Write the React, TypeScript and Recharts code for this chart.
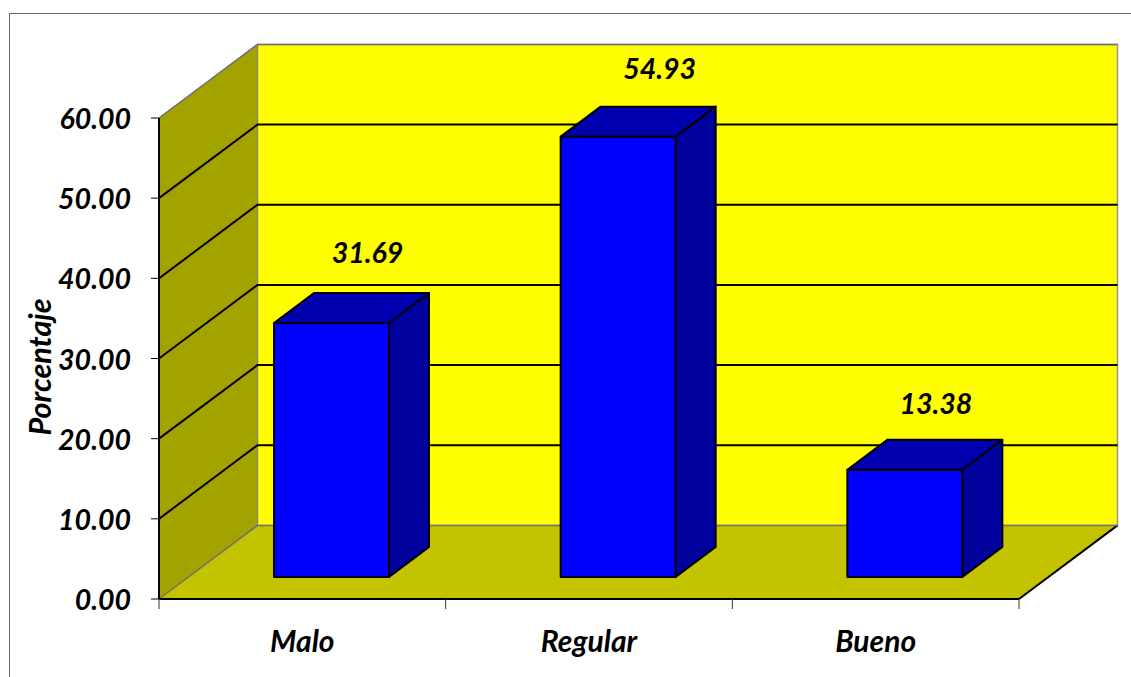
import { BarChart, Bar, XAxis, YAxis, CartesianGrid, LabelList, ReferenceArea } from "recharts";

const categories = ["Malo", "Regular", "Bueno"];
const percentages = [31.69, 54.93, 13.38];
const yTicks = [0, 10, 20, 30, 40, 50, 60];
const yTickLabels = ["0.00", "10.00", "20.00", "30.00", "40.00", "50.00", "60.00"];

const data = categories.map((name, i) => ({ name, value: percentages[i] }));

// excel style fake 3d
const WALL_DX = 98.5;
const WALL_DY = -73.6;
const BAR_DX = 29;
const BAR_DY = -22;
const BOX_DX = 40;
const BOX_DY = -30;
// labels were dragged by hand in the original
const labelNudge = [
  { dx: 65, dy: -92.5 },
  { dx: 70.5, dy: -91 },
  { dx: 60, dy: -89 },
];

const W = 1131;
const H = 677;
const margin = { top: 118, right: 112, left: 59, bottom: 0 };
const halfBand = (W - 159 - margin.right) / categories.length / 2;
const font = "Lato, Carlito, sans-serif";

const pts = (list: number[][]) => list.map((p) => p.join(",")).join(" ");

function Walls(props: any) {
  const { x, y, width, height } = props;
  const b = y + height;
  const r = x + width;
  return (
    <g>
      <polygon
        points={pts([[x + WALL_DX, y + WALL_DY], [r + WALL_DX, y + WALL_DY], [r + WALL_DX, b + WALL_DY], [x + WALL_DX, b + WALL_DY]])}
        fill="#ffff00"
        stroke="#999999"
        strokeWidth={1.5}
      />
      <polygon
        points={pts([[x, y], [x + WALL_DX, y + WALL_DY], [x + WALL_DX, b + WALL_DY], [x, b]])}
        fill="#a3a300"
        stroke="#808080"
        strokeWidth={1}
      />
      <polygon
        points={pts([[x, b], [r, b], [r + WALL_DX, b + WALL_DY], [x + WALL_DX, b + WALL_DY]])}
        fill="#c3c300"
      />
      <line x1={r} y1={b} x2={r + WALL_DX} y2={b + WALL_DY} stroke="#000" strokeWidth={2} />
    </g>
  );
}

function GridLine(props: any) {
  const { x1, y1, x2, index } = props;
  const outer = index === 0 || index === yTicks.length - 1;
  return (
    <polyline
      key={props.key ?? index}
      points={pts([[x1, y1], [x1 + WALL_DX, y1 + WALL_DY], [x2 + WALL_DX, y1 + WALL_DY]])}
      fill="none"
      stroke={outer ? "#707070" : "#000"}
      strokeWidth={outer ? 1.5 : 2}
    />
  );
}

function Box(props: any) {
  const { x, y, width, height } = props;
  const l = x + BAR_DX;
  const r = l + width;
  const t = y + BAR_DY;
  const b = t + height;
  return (
    <g stroke="#000" strokeWidth={2} strokeLinejoin="round">
      <polygon points={pts([[l, t], [r, t], [r + BOX_DX, t + BOX_DY], [l + BOX_DX, t + BOX_DY]])} fill="#0000b0" />
      <polygon points={pts([[r, t], [r + BOX_DX, t + BOX_DY], [r + BOX_DX, b + BOX_DY], [r, b]])} fill="#00009c" />
      <rect x={l} y={t} width={width} height={height} fill="#0000ff" />
    </g>
  );
}

function ValueLabel(props: any) {
  const { x, y, width, value, index } = props;
  const n = labelNudge[index];
  return (
    <text
      x={x + width / 2 + n.dx}
      y={y + n.dy}
      textAnchor="middle"
      dominantBaseline="central"
      fontFamily={font}
      fontWeight={700}
      fontStyle="italic"
      fontSize={28.5}
      fill="#000"
    >
      {value.toFixed(2)}
    </text>
  );
}

function CategoryTick(props: any) {
  const { x, y, payload, index } = props;
  const tickY = y - 8;
  return (
    <g>
      <line x1={x - halfBand} y1={tickY} x2={x - halfBand} y2={tickY + 10} stroke="#333" strokeWidth={1} />
      {index === categories.length - 1 && (
        <line x1={x + halfBand} y1={tickY} x2={x + halfBand} y2={tickY + 10} stroke="#333" strokeWidth={1} />
      )}
      <text
        x={x}
        y={640}
        textAnchor="middle"
        dominantBaseline="central"
        fontFamily={font}
        fontWeight={700}
        fontStyle="italic"
        fontSize={30}
        fill="#000"
      >
        {payload.value}
      </text>
    </g>
  );
}

export default function App() {
  return (
    <div style={{ position: "absolute", left: 0, top: 0, width: W, height: H, background: "#fff" }}>
      <div
        style={{
          position: "absolute",
          left: 8.5,
          top: 13,
          right: 0,
          bottom: 0,
          borderLeft: "1px solid #666",
          borderTop: "1px solid #666",
        }}
      />
      <BarChart width={W} height={H} data={data} margin={margin} barCategoryGap="10%" style={{ position: "absolute" }}>
        <ReferenceArea y1={0} y2={60} shape={Walls} ifOverflow="visible" zIndex={-200} />
        <CartesianGrid vertical={false} horizontal={GridLine} syncWithTicks />
        <XAxis
          dataKey="name"
          height={78}
          interval={0}
          axisLine={{ stroke: "#000", strokeWidth: 2 }}
          tickLine={false}
          tick={CategoryTick}
        />
        <YAxis
          width={100}
          domain={[0, 60]}
          ticks={yTicks}
          interval={0}
          tickFormatter={(v: number) => yTickLabels[yTicks.indexOf(v)]}
          axisLine={{ stroke: "#000", strokeWidth: 2 }}
          tickLine={{ stroke: "#000", strokeWidth: 1 }}
          tickSize={8}
          tickMargin={20}
          tick={{ fontFamily: font, fontWeight: 700, fontStyle: "italic", fontSize: 28.5, fill: "#000", dy: 1 }}
          label={{
            value: "Porcentaje",
            angle: -90,
            position: "insideLeft",
            dx: -24,
            dy: 77,
            style: { fontFamily: font, fontWeight: 700, fontStyle: "italic", fontSize: 30.5, fill: "#000" },
          }}
        />
        <Bar dataKey="value" barSize={115} shape={Box} isAnimationActive={false}>
          <LabelList dataKey="value" content={ValueLabel} />
        </Bar>
      </BarChart>
    </div>
  );
}
